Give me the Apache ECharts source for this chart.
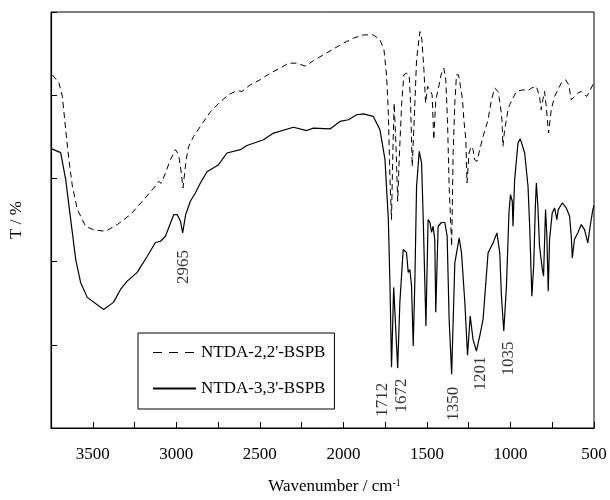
<!DOCTYPE html>
<html><head><meta charset="utf-8">
<script src="https://cdn.jsdelivr.net/npm/echarts@6/dist/echarts.min.js"></script>
<style>html,body{margin:0;padding:0;background:#fff}#c{width:610px;height:500px}</style>
</head><body><div id="c"></div>
<script>
const seriesNames = ["NTDA-2,2'-BSPB", "NTDA-3,3'-BSPB"];
const xTicks = [500,1000,1500,2000,2500,3000,3500];

const dashWn = [3742,3702,3682,3662,3643,3622,3592,3543,3493,3423,3353,3274,3195,3135,3105,3091,3065,3035,3005,2986,2970,2960,2941,2926,2896,2856,2796,2737,2687,2637,2607,2557,2498,2438,2378,2329,2278,2229,2179,2120,2060,2000,1941,1881,1821,1781,1757,1741,1731,1721,1712,1705,1696,1685,1675,1666,1651,1638,1622,1606,1598,1588,1576,1562,1542,1530,1518,1508,1496,1482,1469,1459,1447,1433,1413,1399,1387,1377,1367,1352,1343,1333,1323,1311,1299,1287,1279,1267,1260,1248,1234,1224,1214,1200,1184,1164,1134,1114,1094,1074,1060,1051,1045,1035,1024,1015,1005,995,965,925,895,875,845,826,816,806,796,786,772,756,736,716,696,670,651,636,617,597,576,557,543,527,507,500];
const dashT = [84.9,82.9,79.7,71.7,64.5,58.1,52.5,48.5,47.6,47.3,48.9,51.3,54.9,57.7,59.3,58.8,61.3,64.5,66.9,65.7,61.3,57.7,64.5,67.7,70.1,72.5,76.0,78.4,80.1,81.1,80.9,82.5,83.7,85.3,86.5,87.7,87.7,87.0,88.3,89.7,91.1,92.5,93.7,94.5,94.5,93.3,90.9,84.5,75.7,59.7,50.1,64.5,78.1,67.7,54.5,64.5,78.1,84.9,85.3,84.9,78.1,62.9,74.1,88.5,95.3,93.3,86.1,78.1,82.1,81.3,80.1,69.3,78.9,81.3,85.3,86.5,83.7,74.1,58.1,43.7,66.1,78.1,84.9,84.9,82.1,78.9,74.1,69.3,58.9,66.1,67.7,66.9,64.5,64.1,66.9,70.1,74.1,78.9,81.7,80.9,77.4,74.1,67.7,71.7,74.1,76.5,77.7,78.5,80.9,81.3,81.1,81.7,82.1,79.7,76.5,78.9,80.9,77.4,70.9,76.5,79.7,81.3,82.9,83.7,82.5,78.9,79.7,80.5,80.9,80.1,79.7,80.9,82.5,83.0];

const solidWn = [3746,3692,3662,3632,3602,3573,3533,3435,3376,3334,3294,3234,3174,3125,3095,3065,3045,3015,2995,2975,2962,2944,2916,2886,2856,2816,2747,2697,2617,2577,2478,2418,2299,2219,2179,2080,2020,1970,1920,1881,1821,1781,1751,1731,1721,1712,1699,1675,1662,1642,1622,1612,1602,1592,1582,1572,1562,1546,1532,1522,1512,1506,1493,1482,1472,1463,1453,1447,1433,1413,1393,1379,1367,1352,1333,1307,1293,1273,1257,1241,1224,1204,1184,1164,1134,1124,1104,1081,1064,1054,1040,1024,1009,1000,989,985,975,955,941,915,895,885,872,861,851,845,836,826,809,802,790,782,774,766,750,736,722,714,690,666,646,636,630,617,597,576,557,537,523,507,500];
const solidT = [67.1,66.2,59.7,50.1,40.5,35.0,31.4,28.5,30.2,33.3,35.3,37.4,41.3,44.6,44.9,46.1,48.2,51.3,51.3,49.7,46.9,51.3,54.5,56.5,58.9,61.6,63.3,66.1,66.9,67.9,69.3,70.9,72.3,71.5,72.1,71.9,73.7,74.1,75.3,75.5,74.9,71.7,64.5,50.1,34.1,14.6,33.8,14.4,30.2,42.9,42.2,37.4,38.1,34.1,19.7,35.7,58.1,66.5,63.7,50.1,34.1,24.5,50.1,49.4,47.0,48.5,45.3,27.8,48.5,49.4,49.4,46.1,26.1,12.9,39.7,45.7,42.1,30.1,17.5,26.9,21.3,18.5,22.1,26.1,42.1,42.9,44.5,46.9,42.1,31.7,23.3,34.1,51.7,56.1,54.5,48.5,59.7,68.5,69.5,66.1,58.1,48.5,31.7,38.9,53.3,58.9,53.3,43.7,38.1,36.5,52.5,46.1,32.9,45.3,51.7,52.9,50.1,52.5,54.1,52.9,50.9,46.1,40.9,45.3,46.9,48.9,47.7,44.5,48.5,52.5,53.5];

const annoText = ['2965','1712','1672','1350','1201','1035'];
const annoWn = [2956,1766,1651,1338,1180,1012];
const annoT = [38.7,6.8,7.8,5.8,13.1,16.7];

const FONT = 'Liberation Serif';
const zip = (a, b) => a.map((v, i) => [v, b[i]]);

const chart = echarts.init(document.getElementById('c'), null, {renderer: 'canvas'});
chart.setOption({
  animation: false,
  backgroundColor: '#fff',
  grid: {left: 51, top: 12, right: 16, bottom: 71, show: true, borderColor: '#000', borderWidth: 1},
  legend: {
    orient: 'vertical', left: 138, top: 333,
    data: [
      {name: seriesNames[0], lineStyle: {type: [9, 7], width: 1}},
      {name: seriesNames[1]}
    ],
    itemWidth: 43, itemHeight: 14, itemGap: 19,
    padding: [11, 9, 12, 14],
    borderColor: '#000', borderWidth: 1,
    itemStyle: {opacity: 0},
    textStyle: {fontFamily: FONT, fontSize: 17, color: '#000'}
  },
  xAxis: {
    type: 'value', inverse: true, min: 500, max: 3750, interval: 250,
    name: '{a|Wavenumber / cm}{b|-1}',
    nameLocation: 'middle', nameGap: 50,
    nameTextStyle: {
      fontFamily: FONT, fontSize: 17, color: '#000', padding: [0, 0, 0, 24],
      rich: {a: {fontFamily: FONT, fontSize: 17, color: '#000'}, b: {fontFamily: FONT, fontSize: 10, color: '#000', verticalAlign: 'top'}}
    },
    axisLine: {show: true, lineStyle: {color: '#000', width: 1.2}},
    axisTick: {show: true, inside: true, length: 6, lineStyle: {color: '#000', width: 1}},
    axisLabel: {
      fontFamily: FONT, fontSize: 17, color: '#000', margin: 18,
      formatter: v => xTicks.indexOf(v) >= 0 ? String(v) : ''
    },
    splitLine: {show: false}
  },
  yAxis: {
    type: 'value', min: 0, max: 100, interval: 20,
    name: 'T / %', nameLocation: 'middle', nameGap: 26,
    nameTextStyle: {fontFamily: FONT, fontSize: 17, color: '#000'},
    axisLine: {show: true, lineStyle: {color: '#000', width: 1.2}},
    axisTick: {show: true, inside: true, length: 6, lineStyle: {color: '#000', width: 1}},
    axisLabel: {show: false},
    splitLine: {show: false}
  },
  series: [
    {
      name: seriesNames[0], type: 'line', data: zip(dashWn, dashT),
      symbol: 'none', showSymbol: false, smooth: false,
      lineStyle: {color: '#000', width: 1, type: [6, 4]},
      itemStyle: {color: '#000'}
    },
    {
      name: seriesNames[1], type: 'line', data: zip(solidWn, solidT),
      symbol: 'none', showSymbol: false, smooth: false,
      lineStyle: {color: '#000', width: 1.2, type: 'solid'},
      itemStyle: {color: '#000'}
    },
    {
      name: 'peaks', type: 'scatter', silent: true,
      data: annoText.map((t, i) => ({name: t, value: [annoWn[i], annoT[i]]})),
      symbolSize: 1, itemStyle: {color: 'rgba(0,0,0,0)'},
      label: {show: true, position: 'inside', rotate: 90, formatter: '{b}', fontFamily: FONT, fontSize: 17, color: '#000'}
    }
  ]
});
</script></body></html>
